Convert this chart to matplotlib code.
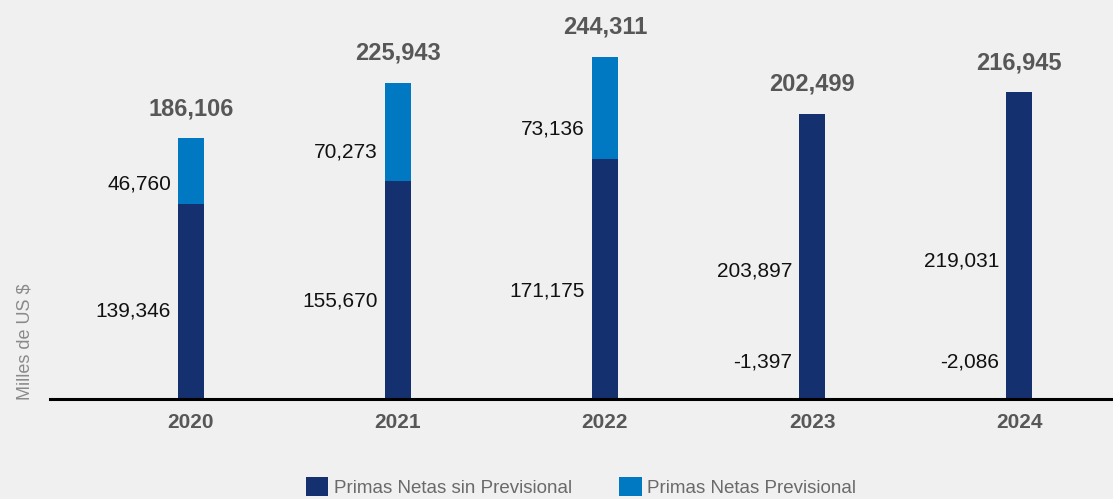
import numpy as np
import matplotlib.pyplot as plt

years = ['2020', '2021', '2022', '2023', '2024']
sin_previsional = [139346, 155670, 171175, 203897, 219031]
previsional = [46760, 70273, 73136, -1397, -2086]
totales = [186106, 225943, 244311, 202499, 216945]
series_names = ['Primas Netas sin Previsional', 'Primas Netas Previsional']

navy = '#14306f'
blue = '#0079c2'
bg = '#f0f0f0'

plt.rcParams['font.family'] = ['Liberation Sans', 'DejaVu Sans']

fig = plt.figure(figsize=(11.13, 4.99), dpi=100, facecolor=bg)
ax = fig.add_axes([50 / 1113, 100 / 499, 1063 / 1113, 399 / 499])
ax.set_facecolor(bg)

x = np.arange(len(years))
dark = np.array(sin_previsional)
prev = np.array(previsional)
w = 0.125

# negatives go below zero (hidden), positives stack on top
prev_bottom = np.where(prev >= 0, dark, 0)
ax.bar(x, dark, w, color=navy, label=series_names[0])
ax.bar(x, prev, w, bottom=prev_bottom, color=blue, label=series_names[1])

ax.set_xlim(-0.681, 4.454)
ax.set_ylim(0, 285000)

for i in range(len(years)):
    top = dark[i] + max(prev[i], 0)
    ax.annotate(f'{totales[i]:,}', (x[i], top), xytext=(0, 13), textcoords='offset points',
                ha='center', va='bottom', fontsize=17, fontweight='bold', color='#575757')
    # dark segment label
    ax.annotate(f'{dark[i]:,}', (x[i] - w / 2, dark[i] * 0.45), xytext=(-5, 0),
                textcoords='offset points', ha='right', va='center', fontsize=15, color='#111111')
    if prev[i] >= 0:
        ax.annotate(f'{prev[i]:,}', (x[i] - w / 2, dark[i] + prev[i] * 0.3), xytext=(-5, 0),
                    textcoords='offset points', ha='right', va='center', fontsize=15, color='#111111')
    else:
        ax.annotate(f'{prev[i]:,}', (x[i] - w / 2, 0), xytext=(-5, 27),
                    textcoords='offset points', ha='right', va='center', fontsize=15, color='#111111')

for s in ['top', 'right', 'left']:
    ax.spines[s].set_visible(False)
ax.spines['bottom'].set_linewidth(2.2)
ax.spines['bottom'].set_color('black')
ax.set_yticks([])
ax.set_xticks(x)
ax.set_xticklabels(years, fontsize=15, fontweight='bold', color='#575757')
ax.tick_params(axis='x', length=0, pad=10)

fig.text(25 / 1113, 1 - 342 / 499, 'Milles de US $', rotation=90, ha='center', va='center',
         fontsize=13, color='#8a8a8a')

leg = fig.legend(loc='center', bbox_to_anchor=(581 / 1113, 1 - 487 / 499), ncol=2, frameon=False,
                 fontsize=13.5, handlelength=1.2, handleheight=1.2, handletextpad=0.3,
                 columnspacing=2.5)
for t in leg.get_texts():
    t.set_color('#6a6a6a')

fig.savefig('out.png', dpi=100, facecolor=bg)
